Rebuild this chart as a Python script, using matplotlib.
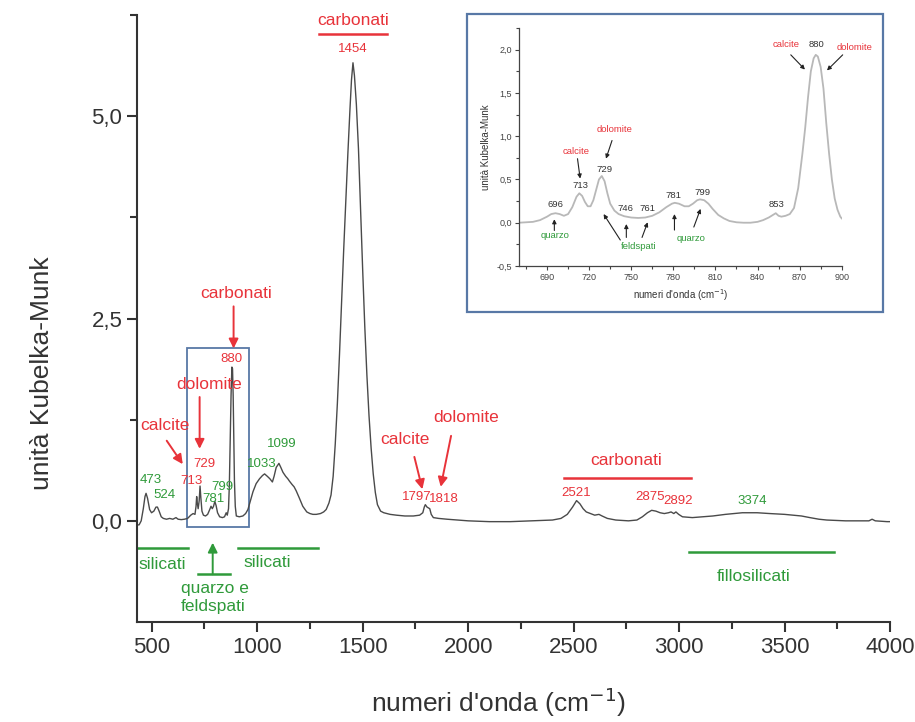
import matplotlib
matplotlib.use("Agg")
import matplotlib.pyplot as plt
from matplotlib.ticker import FixedLocator, FuncFormatter
from matplotlib.patches import Rectangle

# ---- spectrum values (wavenumber cm^-1, Kubelka-Munk units) ----
wn_full = [430, 440, 450, 460, 468, 473, 480, 490, 499, 510, 520, 527, 535, 545, 555,
           570, 585, 600, 615, 625, 640, 655, 670, 685, 696, 705, 710, 713, 716, 720,
           725, 729, 733, 738, 745, 755, 765, 775, 781, 787, 793, 799, 805, 812, 822,
           835, 845, 853, 858, 864, 868, 872, 876, 880, 883, 886, 889, 892, 896, 901,
           915, 932, 945, 956, 968, 980, 995, 1011, 1025, 1035, 1048, 1060, 1072, 1080,
           1090, 1103, 1112, 1122, 1135, 1145, 1153, 1165, 1175, 1185, 1200, 1216, 1235,
           1250, 1264, 1280, 1300, 1315, 1327, 1340, 1350, 1360, 1370, 1380, 1390, 1400,
           1410, 1420, 1430, 1440, 1447, 1454, 1461, 1470, 1480, 1490, 1500, 1510, 1520,
           1530, 1540, 1550, 1560, 1570, 1585, 1600, 1630, 1660, 1700, 1740, 1770, 1785,
           1792, 1797, 1805, 1812, 1818, 1825, 1835, 1860, 1900, 1950, 2000, 2100, 2200,
           2300, 2400, 2440, 2470, 2495, 2514, 2530, 2545, 2560, 2580, 2600, 2620, 2635,
           2660, 2700, 2760, 2800, 2826, 2850, 2870, 2890, 2910, 2930, 2950, 2962, 2975,
           2985, 2998, 3016, 3063, 3110, 3160, 3220, 3300, 3370, 3430, 3500, 3580, 3620,
           3663, 3700, 3789, 3850, 3900, 3915, 3930, 3986, 4000]
km_full = [-0.05, -0.05, 0.00, 0.15, 0.30, 0.34, 0.28, 0.14, 0.10, 0.12, 0.17, 0.17, 0.12, 0.05, 0.03,
           0.02, 0.03, 0.02, 0.04, 0.02, 0.015, 0.02, 0.03, 0.07, 0.09, 0.08, 0.18, 0.30, 0.22, 0.15,
           0.25, 0.43, 0.28, 0.12, 0.07, 0.06, 0.08, 0.14, 0.18, 0.15, 0.18, 0.24, 0.19, 0.10, 0.05,
           0.04, 0.05, 0.10, 0.07, 0.15, 0.45, 1.00, 1.55, 1.90, 1.88, 1.55, 1.00, 0.50, 0.18, 0.06,
           0.05, 0.06, 0.09, 0.14, 0.25, 0.36, 0.46, 0.52, 0.56, 0.58, 0.55, 0.52, 0.48, 0.55,
           0.66, 0.71, 0.66, 0.60, 0.55, 0.52, 0.49, 0.45, 0.42, 0.37, 0.28, 0.18, 0.11,
           0.09, 0.08, 0.08, 0.09, 0.11, 0.14, 0.22, 0.32, 0.55, 0.95, 1.45, 2.05, 2.70,
           3.35, 3.95, 4.55, 5.10, 5.45, 5.66, 5.50, 5.15, 4.60, 3.85, 3.10, 2.40, 1.80,
           1.30, 0.90, 0.58, 0.35, 0.20, 0.12, 0.10, 0.08, 0.07, 0.06, 0.06, 0.07, 0.10,
           0.17, 0.20, 0.17, 0.16, 0.15, 0.08, 0.04, 0.03, 0.02, 0.01, 0.00, -0.01, -0.01,
           0.00, 0.01, 0.03, 0.08, 0.17, 0.25, 0.21, 0.15, 0.11, 0.09, 0.07, 0.08, 0.06,
           0.03, 0.01, 0.00, 0.01, 0.05, 0.10, 0.13, 0.12, 0.10, 0.09, 0.10, 0.11, 0.09,
           0.11, 0.08, 0.05, 0.04, 0.05, 0.06, 0.08, 0.10, 0.10, 0.09, 0.08, 0.06, 0.04,
           0.02, 0.01, 0.00, 0.00, 0.00, 0.02, 0.00, -0.01, -0.01]

# detail of the 670-900 cm^-1 range
wn_zoom = [670, 675, 680, 685, 690, 693, 696, 699, 702, 705, 708, 711, 713, 715, 717, 719,
           721, 723, 725, 727, 729, 731, 733, 735, 738, 741, 745, 750, 755, 760, 765, 770,
           775, 779, 781, 784, 788, 791, 794, 797, 799, 802, 805, 808, 812, 816, 820, 825,
           830, 835, 840, 844, 848, 851, 853, 855, 857, 860, 863, 866, 869, 872, 874, 876,
           878, 880, 881.5, 883, 885, 887, 889, 891, 893, 895, 897, 899, 900]
km_zoom = [0.00, 0.005, 0.01, 0.03, 0.07, 0.10, 0.11, 0.10, 0.08, 0.10, 0.18, 0.30, 0.34, 0.31, 0.24, 0.19,
           0.19, 0.26, 0.38, 0.50, 0.54, 0.48, 0.34, 0.22, 0.14, 0.10, 0.075, 0.06, 0.055, 0.06, 0.08, 0.12,
           0.18, 0.22, 0.23, 0.22, 0.19, 0.19, 0.22, 0.26, 0.27, 0.26, 0.22, 0.16, 0.09, 0.05, 0.02, 0.005,
           0.00, 0.00, 0.01, 0.03, 0.06, 0.09, 0.11, 0.08, 0.07, 0.08, 0.10, 0.17, 0.40, 0.80, 1.10, 1.45,
           1.75, 1.90, 1.94, 1.92, 1.80, 1.55, 1.15, 0.80, 0.50, 0.28, 0.15, 0.07, 0.05]

main_xticks = [500, 1000, 1500, 2000, 2500, 3000, 3500, 4000]
main_yticks = [0.0, 2.5, 5.0]
zoom_xticks = [690, 720, 750, 780, 810, 840, 870, 900]
zoom_yticks = [-0.5, 0.0, 0.5, 1.0, 1.5, 2.0]

RED = "#e8333a"
GREEN = "#2f9a3a"
BOXBLUE = "#5878a6"

plt.rcParams["font.family"] = ["Liberation Sans", "DejaVu Sans"]


def comma(v, _pos):
    return f"{v:.1f}".replace(".", ",")


fig = plt.figure(figsize=(9.15, 7.22), dpi=100)

# ---------------- main spectrum ----------------
ax = fig.add_axes([0.1497, 0.1385, 0.8230, 0.8407])
ax.plot(wn_full, km_full, color="#4a4a4a", lw=1.0)
ax.set_xlim(430, 4000)
ax.set_ylim(-1.25, 6.25)
for s in ("top", "right"):
    ax.spines[s].set_visible(False)
for s in ("left", "bottom"):
    ax.spines[s].set_linewidth(1.5)
    ax.spines[s].set_color("#333333")
ax.xaxis.set_major_locator(FixedLocator(main_xticks))
ax.xaxis.set_minor_locator(FixedLocator([750, 1250, 1750, 2250, 2750, 3250, 3750]))
ax.yaxis.set_major_locator(FixedLocator(main_yticks))
ax.yaxis.set_minor_locator(FixedLocator([1.25, 3.75, 6.25]))
ax.yaxis.set_major_formatter(FuncFormatter(comma))
ax.tick_params(which="major", direction="out", length=7, width=1.5, color="#333333",
               labelsize=16, labelcolor="#333333")
ax.tick_params(which="minor", direction="out", length=5, width=1.5, color="#333333")
ax.set_xlabel("numeri d'onda (cm$^{-1}$)", fontsize=19, color="#333333")
ax.xaxis.set_label_coords(0.48, -0.105)
ax.set_ylabel("unità Kubelka-Munk", fontsize=19, color="#333333")
ax.yaxis.set_label_coords(-0.11, 0.41)

big = 12.5
small = 9.5
red_arrow = dict(arrowstyle="-|>", color=RED, lw=1.4, mutation_scale=14, shrinkA=0, shrinkB=0)
green_arrow = dict(arrowstyle="-|>", color=GREEN, lw=1.4, mutation_scale=14, shrinkA=0, shrinkB=0)

# carbonate bands
ax.text(1454, 6.18, "carbonati", color=RED, fontsize=big, ha="center", va="center", clip_on=False)
ax.plot([1295, 1613], [6.02, 6.02], color=RED, lw=1.8, clip_on=False)
ax.text(1454, 5.83, "1454", color=RED, fontsize=small, ha="center", va="center")

ax.text(902, 2.81, "carbonati", color=RED, fontsize=big, ha="center", va="center")
ax.annotate("", xy=(888, 2.13), xytext=(888, 2.65), arrowprops=red_arrow)
ax.text(879, 2.0, "880", color=RED, fontsize=small, ha="center", va="center")

ax.text(770, 1.69, "dolomite", color=RED, fontsize=big, ha="center", va="center")
ax.annotate("", xy=(727, 0.89), xytext=(727, 1.53), arrowprops=red_arrow)
ax.text(751, 0.70, "729", color=RED, fontsize=small, ha="center", va="center")

ax.text(562, 1.18, "calcite", color=RED, fontsize=big, ha="center", va="center")
ax.annotate("", xy=(647, 0.70), xytext=(571, 0.99), arrowprops=red_arrow)
ax.text(689, 0.49, "713", color=RED, fontsize=small, ha="center", va="center")

ax.text(1698, 1.01, "calcite", color=RED, fontsize=big, ha="center", va="center")
ax.annotate("", xy=(1783, 0.39), xytext=(1745, 0.79), arrowprops=red_arrow)
ax.text(1991, 1.28, "dolomite", color=RED, fontsize=big, ha="center", va="center")
ax.annotate("", xy=(1870, 0.42), xytext=(1919, 1.05), arrowprops=red_arrow)
ax.text(1755, 0.30, "1797", color=RED, fontsize=small, ha="center", va="center")
ax.text(1887, 0.27, "1818", color=RED, fontsize=small, ha="center", va="center")

ax.text(2749, 0.74, "carbonati", color=RED, fontsize=big, ha="center", va="center")
ax.plot([2455, 3057], [0.53, 0.53], color=RED, lw=1.8)
ax.text(2512, 0.35, "2521", color=RED, fontsize=small, ha="center", va="center")
ax.text(2863, 0.30, "2875", color=RED, fontsize=small, ha="center", va="center")
ax.text(2995, 0.24, "2892", color=RED, fontsize=small, ha="center", va="center")

# silicate bands
ax.text(496, 0.51, "473", color=GREEN, fontsize=small, ha="center", va="center")
ax.text(562, 0.32, "524", color=GREEN, fontsize=small, ha="center", va="center")
ax.text(792, 0.27, "781", color=GREEN, fontsize=small, ha="center", va="center")
ax.text(833, 0.42, "799", color=GREEN, fontsize=small, ha="center", va="center")
ax.text(1021, 0.70, "1033", color=GREEN, fontsize=small, ha="center", va="center")
ax.text(1115, 0.95, "1099", color=GREEN, fontsize=small, ha="center", va="center")
ax.text(3346, 0.25, "3374", color=GREEN, fontsize=small, ha="center", va="center")

ax.plot([434, 670], [-0.34, -0.34], color=GREEN, lw=1.8)
ax.text(552, -0.54, "silicati", color=GREEN, fontsize=big, ha="center", va="center")
ax.plot([907, 1286], [-0.34, -0.34], color=GREEN, lw=1.8)
ax.text(1049, -0.52, "silicati", color=GREEN, fontsize=big, ha="center", va="center")
ax.annotate("", xy=(789, -0.27), xytext=(789, -0.66), arrowprops=green_arrow)
ax.plot([718, 869], [-0.66, -0.66], color=GREEN, lw=1.8)
ax.text(798, -0.83, "quarzo e", color=GREEN, fontsize=big, ha="center", va="center")
ax.text(789, -1.06, "feldspati", color=GREEN, fontsize=big, ha="center", va="center")
ax.plot([3047, 3734], [-0.39, -0.39], color=GREEN, lw=1.8)
ax.text(3355, -0.69, "fillosilicati", color=GREEN, fontsize=big, ha="center", va="center")

# frame around the 670-900 cm^-1 window
ax.add_patch(Rectangle((666, -0.07), 959 - 666, 2.13 + 0.07, fill=False,
                       edgecolor=BOXBLUE, lw=1.3))

# ---------------- detail panel ----------------
fig.patches.append(Rectangle((0.5104, 0.5679), 0.4546, 0.4127, transform=fig.transFigure,
                             facecolor="white", edgecolor=BOXBLUE, lw=1.6, zorder=5))
ins = fig.add_axes([0.5672, 0.6316, 0.3527, 0.3296], zorder=6)
ins.patch.set_alpha(0)
ins.plot(wn_zoom, km_zoom, color="#b8b8b8", lw=1.3)
ins.set_xlim(670, 900)
ins.set_ylim(-0.5, 2.25)
for s in ("top", "right"):
    ins.spines[s].set_visible(False)
for s in ("left", "bottom"):
    ins.spines[s].set_linewidth(0.9)
    ins.spines[s].set_color("#444444")
ins.xaxis.set_major_locator(FixedLocator(zoom_xticks))
ins.xaxis.set_minor_locator(FixedLocator([675, 705, 735, 765, 795, 825, 855, 885]))
ins.yaxis.set_major_locator(FixedLocator(zoom_yticks))
ins.yaxis.set_minor_locator(FixedLocator([-0.25, 0.25, 0.75, 1.25, 1.75, 2.25]))
ins.yaxis.set_major_formatter(FuncFormatter(comma))
ins.tick_params(which="major", direction="out", length=3, width=0.8, color="#444444",
                labelsize=6.5, labelcolor="#444444", pad=2)
ins.tick_params(which="minor", direction="out", length=2, width=0.8, color="#444444")
ins.set_xlabel("numeri d'onda (cm$^{-1}$)", fontsize=7, color="#333333", labelpad=4)
ins.set_ylabel("unità Kubelka-Munk", fontsize=7, color="#333333", labelpad=4)

ifs = 6.8
dark_arrow = dict(arrowstyle="-|>", color="#222222", lw=0.8, mutation_scale=6, shrinkA=0, shrinkB=0)
ins.text(860.2, 2.06, "calcite", color=RED, fontsize=ifs, ha="center", va="center")
ins.text(882.3, 2.06, "880", color="#333333", fontsize=ifs, ha="center", va="center")
ins.text(909, 2.03, "dolomite", color=RED, fontsize=ifs, ha="center", va="center", clip_on=False)
ins.annotate("", xy=(873.8, 1.77), xytext=(863.7, 1.94), arrowprops=dark_arrow)
ins.annotate("", xy=(889.5, 1.76), xytext=(900.7, 1.94), arrowprops=dark_arrow,
             annotation_clip=False)

ins.text(738.2, 1.08, "dolomite", color=RED, fontsize=ifs, ha="center", va="center")
ins.annotate("", xy=(732, 0.74), xytext=(736.3, 0.95), arrowprops=dark_arrow)
ins.text(730.8, 0.62, "729", color="#333333", fontsize=ifs, ha="center", va="center")
ins.text(710.8, 0.82, "calcite", color=RED, fontsize=ifs, ha="center", va="center")
ins.annotate("", xy=(713.6, 0.51), xytext=(711.7, 0.74), arrowprops=dark_arrow)
ins.text(713.6, 0.43, "713", color="#333333", fontsize=ifs, ha="center", va="center")

for xv, yv, lab in [(695.7, 0.21, "696"), (745.8, 0.16, "746"), (761.3, 0.17, "761"),
                    (780.3, 0.31, "781"), (800.6, 0.35, "799"), (853.7, 0.21, "853")]:
    ins.text(xv, yv, lab, color="#333333", fontsize=ifs, ha="center", va="center")

ins.text(695.7, -0.15, "quarzo", color=GREEN, fontsize=ifs, ha="center", va="center")
ins.annotate("", xy=(695.2, 0.04), xytext=(695.2, -0.09), arrowprops=dark_arrow)
ins.text(755.3, -0.27, "feldspati", color=GREEN, fontsize=ifs, ha="center", va="center")
ins.annotate("", xy=(730.3, 0.10), xytext=(742.2, -0.20), arrowprops=dark_arrow)
ins.annotate("", xy=(746.5, -0.015), xytext=(746.5, -0.17), arrowprops=dark_arrow)
ins.annotate("", xy=(761.7, 0.005), xytext=(757.7, -0.17), arrowprops=dark_arrow)
ins.text(792.3, -0.18, "quarzo", color=GREEN, fontsize=ifs, ha="center", va="center")
ins.annotate("", xy=(780.8, 0.10), xytext=(780.8, -0.085), arrowprops=dark_arrow)
ins.annotate("", xy=(799.4, 0.16), xytext=(794.6, -0.05), arrowprops=dark_arrow)

fig.savefig("out.png", dpi=100)
